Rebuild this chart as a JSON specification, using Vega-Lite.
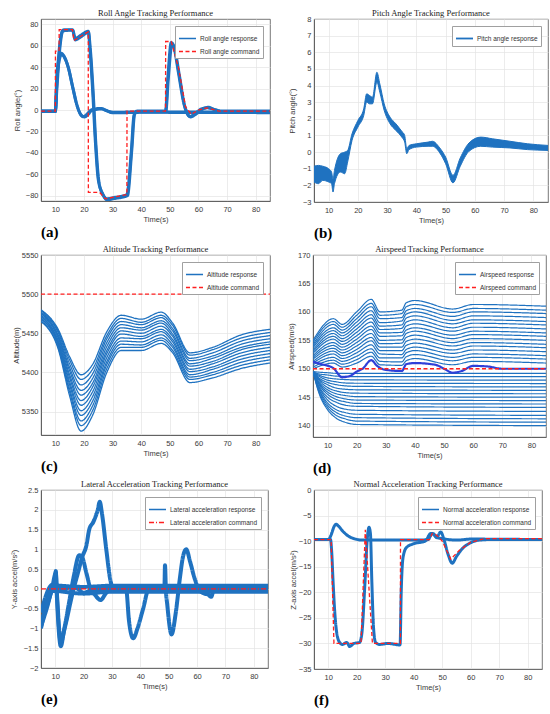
{
"$schema":"https://vega.github.io/schema/vega-lite/v6.json",
"background":"white",
"padding":{"left":9,"top":8,"right":5,"bottom":0},
"config":{
 "font":"Liberation Sans",
 "view":{"stroke":"#555555","strokeWidth":0.8},
 "axis":{"labelFont":"Liberation Sans","labelFontSize":7.5,"labelColor":"#3a3a3a","titleFont":"Liberation Sans","titleFontSize":7.5,"titleFontWeight":"normal","titleColor":"#3a3a3a","gridColor":"#e4e4e4","gridWidth":0.7,"domainColor":"#555555","domainWidth":0.8,"ticks":false,"labelPadding":3,"labelOverlap":false},
 "axisX":{"labelPadding":4,"titlePadding":3},
 "title":{"font":"Liberation Serif","fontSize":8.5,"fontWeight":"normal","color":"#222222","offset":2,"frame":"group"},
 "legend":{"orient":"top-right","offset":7,"fillColor":"white","strokeColor":"#a0a0a0","padding":3,"symbolType":"stroke","symbolSize":290,"symbolStrokeWidth":1.4,"labelFont":"Liberation Sans","labelFontSize":6.5,"labelColor":"#333333","rowPadding":0,"labelOffset":3}
},
"resolve":{"scale":{"color":"independent","strokeDash":"independent"},"legend":{"color":"independent","strokeDash":"independent"}},
"datasets":{
"a":[
{"t":5,"v":-1,"r":"c","k":"C"},{"t":10,"v":-1,"r":"c","k":"C"},{"t":10.05,"v":55,"r":"c","k":"C"},{"t":11.3,"v":55,"r":"c","k":"C"},{"t":11.35,"v":75,"r":"c","k":"C"},{"t":16,"v":75,"r":"c","k":"C"},{"t":16.5,"v":65,"r":"c","k":"C"},{"t":21.5,"v":73,"r":"c","k":"C"},{"t":21.55,"v":-77,"r":"c","k":"C"},{"t":25.5,"v":-77,"r":"c","k":"C"},{"t":27.5,"v":-83,"r":"c","k":"C"},{"t":35,"v":-79,"r":"c","k":"C"},{"t":35.05,"v":-1,"r":"c","k":"C"},{"t":48.5,"v":-1,"r":"c","k":"C"},{"t":48.55,"v":64,"r":"c","k":"C"},{"t":50.5,"v":64,"r":"c","k":"C"},{"t":53,"v":40,"r":"c","k":"C"},{"t":55.5,"v":3,"r":"c","k":"C"},{"t":57.5,"v":-4,"r":"c","k":"C"},{"t":60,"v":0,"r":"c","k":"C"},{"t":63,"v":2,"r":"c","k":"C"},{"t":67,"v":-1,"r":"c","k":"C"},{"t":85,"v":-1,"r":"c","k":"C"},
{"t":5,"v":-1,"r":"a1","k":"R"},{"t":10,"v":-1,"r":"a1","k":"R"},{"t":10.5,"v":25,"r":"a1","k":"R"},{"t":11.5,"v":60,"r":"a1","k":"R"},{"t":12.5,"v":74,"r":"a1","k":"R"},{"t":13,"v":75,"r":"a1","k":"R"},{"t":16,"v":75,"r":"a1","k":"R"},{"t":17,"v":67,"r":"a1","k":"R"},{"t":19,"v":70,"r":"a1","k":"R"},{"t":21.5,"v":73.5,"r":"a1","k":"R"},{"t":22,"v":60,"r":"a1","k":"R"},{"t":23,"v":20,"r":"a1","k":"R"},{"t":24,"v":-30,"r":"a1","k":"R"},{"t":25,"v":-65,"r":"a1","k":"R"},{"t":26.5,"v":-78,"r":"a1","k":"R"},{"t":28,"v":-83,"r":"a1","k":"R"},{"t":30,"v":-82,"r":"a1","k":"R"},{"t":35,"v":-79,"r":"a1","k":"R"},{"t":36.5,"v":-40,"r":"a1","k":"R"},{"t":37.5,"v":-5,"r":"a1","k":"R"},{"t":38.5,"v":-1,"r":"a1","k":"R"},{"t":48.5,"v":-1,"r":"a1","k":"R"},{"t":49.3,"v":30,"r":"a1","k":"R"},{"t":50.5,"v":63,"r":"a1","k":"R"},{"t":51.5,"v":58,"r":"a1","k":"R"},{"t":53,"v":35,"r":"a1","k":"R"},{"t":55,"v":5,"r":"a1","k":"R"},{"t":57,"v":-6,"r":"a1","k":"R"},{"t":59,"v":-3,"r":"a1","k":"R"},{"t":61,"v":1,"r":"a1","k":"R"},{"t":63,"v":2,"r":"a1","k":"R"},{"t":65,"v":1,"r":"a1","k":"R"},{"t":68,"v":-1,"r":"a1","k":"R"},{"t":85,"v":-1,"r":"a1","k":"R"},
{"t":5,"v":-1.5,"r":"a2","k":"R"},{"t":10,"v":-1.5,"r":"a2","k":"R"},{"t":10.6,"v":22,"r":"a2","k":"R"},{"t":11.6,"v":58,"r":"a2","k":"R"},{"t":12.7,"v":74,"r":"a2","k":"R"},{"t":16,"v":74.5,"r":"a2","k":"R"},{"t":17,"v":65.5,"r":"a2","k":"R"},{"t":19,"v":68.5,"r":"a2","k":"R"},{"t":21.6,"v":72.5,"r":"a2","k":"R"},{"t":22.2,"v":58,"r":"a2","k":"R"},{"t":23.2,"v":18,"r":"a2","k":"R"},{"t":24.2,"v":-33,"r":"a2","k":"R"},{"t":25.3,"v":-68,"r":"a2","k":"R"},{"t":26.8,"v":-80,"r":"a2","k":"R"},{"t":28.2,"v":-84,"r":"a2","k":"R"},{"t":30,"v":-83,"r":"a2","k":"R"},{"t":35.2,"v":-80,"r":"a2","k":"R"},{"t":36.7,"v":-38,"r":"a2","k":"R"},{"t":37.7,"v":-4,"r":"a2","k":"R"},{"t":38.7,"v":-1.5,"r":"a2","k":"R"},{"t":48.6,"v":-1.5,"r":"a2","k":"R"},{"t":49.5,"v":30,"r":"a2","k":"R"},{"t":50.8,"v":62,"r":"a2","k":"R"},{"t":51.8,"v":56,"r":"a2","k":"R"},{"t":53.3,"v":33,"r":"a2","k":"R"},{"t":55.3,"v":3,"r":"a2","k":"R"},{"t":57.3,"v":-6.5,"r":"a2","k":"R"},{"t":59.3,"v":-3.5,"r":"a2","k":"R"},{"t":61.3,"v":0.5,"r":"a2","k":"R"},{"t":63.5,"v":2.5,"r":"a2","k":"R"},{"t":65.5,"v":0.5,"r":"a2","k":"R"},{"t":68,"v":-1.5,"r":"a2","k":"R"},{"t":85,"v":-1.5,"r":"a2","k":"R"},
{"t":5,"v":-1,"r":"b1","k":"R"},{"t":10,"v":-1,"r":"b1","k":"R"},{"t":10.5,"v":30,"r":"b1","k":"R"},{"t":11.5,"v":50,"r":"b1","k":"R"},{"t":12,"v":53,"r":"b1","k":"R"},{"t":13,"v":50.5,"r":"b1","k":"R"},{"t":14.5,"v":40,"r":"b1","k":"R"},{"t":16,"v":22,"r":"b1","k":"R"},{"t":17.5,"v":5,"r":"b1","k":"R"},{"t":19,"v":-4.5,"r":"b1","k":"R"},{"t":20,"v":-6,"r":"b1","k":"R"},{"t":21,"v":-4,"r":"b1","k":"R"},{"t":22.5,"v":0,"r":"b1","k":"R"},{"t":24,"v":1,"r":"b1","k":"R"},{"t":26,"v":1.5,"r":"b1","k":"R"},{"t":27.5,"v":0,"r":"b1","k":"R"},{"t":30,"v":-2,"r":"b1","k":"R"},{"t":33,"v":-2,"r":"b1","k":"R"},{"t":40,"v":-1.8,"r":"b1","k":"R"},{"t":85,"v":-2,"r":"b1","k":"R"},
{"t":5,"v":-1.5,"r":"b2","k":"R"},{"t":10,"v":-1.5,"r":"b2","k":"R"},{"t":10.6,"v":28,"r":"b2","k":"R"},{"t":11.6,"v":49,"r":"b2","k":"R"},{"t":12.2,"v":52,"r":"b2","k":"R"},{"t":13.2,"v":49,"r":"b2","k":"R"},{"t":14.7,"v":38,"r":"b2","k":"R"},{"t":16.2,"v":20,"r":"b2","k":"R"},{"t":17.7,"v":3.5,"r":"b2","k":"R"},{"t":19.2,"v":-5.5,"r":"b2","k":"R"},{"t":20.2,"v":-6.5,"r":"b2","k":"R"},{"t":21.2,"v":-5,"r":"b2","k":"R"},{"t":22.7,"v":-0.5,"r":"b2","k":"R"},{"t":24.2,"v":0.5,"r":"b2","k":"R"},{"t":26.2,"v":1,"r":"b2","k":"R"},{"t":27.7,"v":-0.5,"r":"b2","k":"R"},{"t":30,"v":-2.5,"r":"b2","k":"R"},{"t":33,"v":-2.5,"r":"b2","k":"R"},{"t":40,"v":-2.2,"r":"b2","k":"R"},{"t":85,"v":-2.5,"r":"b2","k":"R"}
],
"b":[
{"t":5,"lo":-1.8,"hi":-0.85},{"t":6.5,"lo":-1.9,"hi":-0.8},{"t":8,"lo":-1.7,"hi":-0.85},{"t":10,"lo":-1.8,"hi":-1.0},{"t":11,"lo":-1.9,"hi":-1.2},{"t":11.5,"lo":-2.4,"hi":-1.6},{"t":12,"lo":-1.9,"hi":-1.1},{"t":14,"lo":-1.2,"hi":-0.1},{"t":15.5,"lo":-1.3,"hi":0.0},{"t":16.5,"lo":-0.6,"hi":0.1},{"t":18,"lo":0.7,"hi":1.1},{"t":20,"lo":1.5,"hi":1.9},{"t":22,"lo":2.2,"hi":2.6},{"t":23,"lo":3.0,"hi":3.5},{"t":24,"lo":2.9,"hi":3.4},{"t":25,"lo":2.9,"hi":3.3},{"t":26.5,"lo":4.2,"hi":4.8},{"t":27.5,"lo":3.6,"hi":4.1},{"t":29,"lo":2.5,"hi":2.9},{"t":31,"lo":1.7,"hi":2.1},{"t":33,"lo":1.3,"hi":1.7},{"t":35,"lo":0.9,"hi":1.25},{"t":36,"lo":0.6,"hi":1.0},{"t":36.7,"lo":-0.1,"hi":0.2},{"t":37.5,"lo":0.15,"hi":0.4},{"t":40,"lo":0.3,"hi":0.5},{"t":44,"lo":0.35,"hi":0.6},{"t":45.5,"lo":0.35,"hi":0.65},{"t":48,"lo":-0.05,"hi":0.25},{"t":50,"lo":-0.7,"hi":-0.3},{"t":52.5,"lo":-1.85,"hi":-1.4},{"t":55,"lo":-0.85,"hi":-0.35},{"t":58,"lo":0.05,"hi":0.55},{"t":62,"lo":0.35,"hi":0.9},{"t":66,"lo":0.3,"hi":0.8},{"t":72,"lo":0.25,"hi":0.65},{"t":78,"lo":0.15,"hi":0.5},{"t":85,"lo":0.1,"hi":0.4}
],
"c":[
{"t":5,"v":5500,"r":"c","k":"C"},{"t":85,"v":5500,"r":"c","k":"C"},
{"t":5,"v":5465,"r":"0","k":"R"},{"t":11,"v":5430,"r":"0","k":"R"},{"t":15,"v":5370,"r":"0","k":"R"},{"t":19,"v":5325,"r":"0","k":"R"},{"t":23,"v":5345,"r":"0","k":"R"},{"t":28,"v":5400,"r":"0","k":"R"},{"t":33,"v":5428,"r":"0","k":"R"},{"t":40,"v":5428,"r":"0","k":"R"},{"t":47,"v":5437,"r":"0","k":"R"},{"t":51,"v":5425,"r":"0","k":"R"},{"t":57,"v":5387,"r":"0","k":"R"},{"t":65,"v":5393,"r":"0","k":"R"},{"t":75,"v":5405,"r":"0","k":"R"},{"t":85,"v":5412,"r":"0","k":"R"},
{"t":5,"v":5466,"r":"1","k":"R"},{"t":11,"v":5432,"r":"1","k":"R"},{"t":15,"v":5375,"r":"1","k":"R"},{"t":19,"v":5332,"r":"1","k":"R"},{"t":23,"v":5351,"r":"1","k":"R"},{"t":28,"v":5405,"r":"1","k":"R"},{"t":33,"v":5432,"r":"1","k":"R"},{"t":40,"v":5432,"r":"1","k":"R"},{"t":47,"v":5441,"r":"1","k":"R"},{"t":51,"v":5428,"r":"1","k":"R"},{"t":57,"v":5391,"r":"1","k":"R"},{"t":65,"v":5397,"r":"1","k":"R"},{"t":75,"v":5409,"r":"1","k":"R"},{"t":85,"v":5416,"r":"1","k":"R"},
{"t":5,"v":5468,"r":"2","k":"R"},{"t":11,"v":5435,"r":"2","k":"R"},{"t":15,"v":5379,"r":"2","k":"R"},{"t":19,"v":5338,"r":"2","k":"R"},{"t":23,"v":5357,"r":"2","k":"R"},{"t":28,"v":5410,"r":"2","k":"R"},{"t":33,"v":5436,"r":"2","k":"R"},{"t":40,"v":5435,"r":"2","k":"R"},{"t":47,"v":5444,"r":"2","k":"R"},{"t":51,"v":5432,"r":"2","k":"R"},{"t":57,"v":5394,"r":"2","k":"R"},{"t":65,"v":5400,"r":"2","k":"R"},{"t":75,"v":5413,"r":"2","k":"R"},{"t":85,"v":5420,"r":"2","k":"R"},
{"t":5,"v":5469,"r":"3","k":"R"},{"t":11,"v":5437,"r":"3","k":"R"},{"t":15,"v":5384,"r":"3","k":"R"},{"t":19,"v":5345,"r":"3","k":"R"},{"t":23,"v":5363,"r":"3","k":"R"},{"t":28,"v":5414,"r":"3","k":"R"},{"t":33,"v":5440,"r":"3","k":"R"},{"t":40,"v":5439,"r":"3","k":"R"},{"t":47,"v":5448,"r":"3","k":"R"},{"t":51,"v":5435,"r":"3","k":"R"},{"t":57,"v":5397,"r":"3","k":"R"},{"t":65,"v":5404,"r":"3","k":"R"},{"t":75,"v":5417,"r":"3","k":"R"},{"t":85,"v":5424,"r":"3","k":"R"},
{"t":5,"v":5471,"r":"4","k":"R"},{"t":11,"v":5439,"r":"4","k":"R"},{"t":15,"v":5388,"r":"4","k":"R"},{"t":19,"v":5351,"r":"4","k":"R"},{"t":23,"v":5369,"r":"4","k":"R"},{"t":28,"v":5419,"r":"4","k":"R"},{"t":33,"v":5444,"r":"4","k":"R"},{"t":40,"v":5443,"r":"4","k":"R"},{"t":47,"v":5452,"r":"4","k":"R"},{"t":51,"v":5439,"r":"4","k":"R"},{"t":57,"v":5401,"r":"4","k":"R"},{"t":65,"v":5407,"r":"4","k":"R"},{"t":75,"v":5421,"r":"4","k":"R"},{"t":85,"v":5428,"r":"4","k":"R"},
{"t":5,"v":5472,"r":"5","k":"R"},{"t":11,"v":5441,"r":"5","k":"R"},{"t":15,"v":5393,"r":"5","k":"R"},{"t":19,"v":5358,"r":"5","k":"R"},{"t":23,"v":5375,"r":"5","k":"R"},{"t":28,"v":5424,"r":"5","k":"R"},{"t":33,"v":5449,"r":"5","k":"R"},{"t":40,"v":5446,"r":"5","k":"R"},{"t":47,"v":5455,"r":"5","k":"R"},{"t":51,"v":5442,"r":"5","k":"R"},{"t":57,"v":5404,"r":"5","k":"R"},{"t":65,"v":5411,"r":"5","k":"R"},{"t":75,"v":5425,"r":"5","k":"R"},{"t":85,"v":5432,"r":"5","k":"R"},
{"t":5,"v":5473,"r":"6","k":"R"},{"t":11,"v":5444,"r":"6","k":"R"},{"t":15,"v":5397,"r":"6","k":"R"},{"t":19,"v":5364,"r":"6","k":"R"},{"t":23,"v":5381,"r":"6","k":"R"},{"t":28,"v":5428,"r":"6","k":"R"},{"t":33,"v":5453,"r":"6","k":"R"},{"t":40,"v":5450,"r":"6","k":"R"},{"t":47,"v":5459,"r":"6","k":"R"},{"t":51,"v":5446,"r":"6","k":"R"},{"t":57,"v":5408,"r":"6","k":"R"},{"t":65,"v":5414,"r":"6","k":"R"},{"t":75,"v":5429,"r":"6","k":"R"},{"t":85,"v":5436,"r":"6","k":"R"},
{"t":5,"v":5475,"r":"7","k":"R"},{"t":11,"v":5446,"r":"7","k":"R"},{"t":15,"v":5402,"r":"7","k":"R"},{"t":19,"v":5371,"r":"7","k":"R"},{"t":23,"v":5386,"r":"7","k":"R"},{"t":28,"v":5433,"r":"7","k":"R"},{"t":33,"v":5457,"r":"7","k":"R"},{"t":40,"v":5454,"r":"7","k":"R"},{"t":47,"v":5463,"r":"7","k":"R"},{"t":51,"v":5449,"r":"7","k":"R"},{"t":57,"v":5411,"r":"7","k":"R"},{"t":65,"v":5418,"r":"7","k":"R"},{"t":75,"v":5432,"r":"7","k":"R"},{"t":85,"v":5439,"r":"7","k":"R"},
{"t":5,"v":5476,"r":"8","k":"R"},{"t":11,"v":5448,"r":"8","k":"R"},{"t":15,"v":5406,"r":"8","k":"R"},{"t":19,"v":5377,"r":"8","k":"R"},{"t":23,"v":5392,"r":"8","k":"R"},{"t":28,"v":5438,"r":"8","k":"R"},{"t":33,"v":5461,"r":"8","k":"R"},{"t":40,"v":5457,"r":"8","k":"R"},{"t":47,"v":5466,"r":"8","k":"R"},{"t":51,"v":5453,"r":"8","k":"R"},{"t":57,"v":5415,"r":"8","k":"R"},{"t":65,"v":5421,"r":"8","k":"R"},{"t":75,"v":5436,"r":"8","k":"R"},{"t":85,"v":5443,"r":"8","k":"R"},
{"t":5,"v":5477,"r":"9","k":"R"},{"t":11,"v":5451,"r":"9","k":"R"},{"t":15,"v":5411,"r":"9","k":"R"},{"t":19,"v":5384,"r":"9","k":"R"},{"t":23,"v":5398,"r":"9","k":"R"},{"t":28,"v":5443,"r":"9","k":"R"},{"t":33,"v":5465,"r":"9","k":"R"},{"t":40,"v":5461,"r":"9","k":"R"},{"t":47,"v":5470,"r":"9","k":"R"},{"t":51,"v":5456,"r":"9","k":"R"},{"t":57,"v":5418,"r":"9","k":"R"},{"t":65,"v":5425,"r":"9","k":"R"},{"t":75,"v":5440,"r":"9","k":"R"},{"t":85,"v":5447,"r":"9","k":"R"},
{"t":5,"v":5479,"r":"10","k":"R"},{"t":11,"v":5453,"r":"10","k":"R"},{"t":15,"v":5416,"r":"10","k":"R"},{"t":19,"v":5391,"r":"10","k":"R"},{"t":23,"v":5404,"r":"10","k":"R"},{"t":28,"v":5447,"r":"10","k":"R"},{"t":33,"v":5469,"r":"10","k":"R"},{"t":40,"v":5464,"r":"10","k":"R"},{"t":47,"v":5473,"r":"10","k":"R"},{"t":51,"v":5460,"r":"10","k":"R"},{"t":57,"v":5422,"r":"10","k":"R"},{"t":65,"v":5429,"r":"10","k":"R"},{"t":75,"v":5444,"r":"10","k":"R"},{"t":85,"v":5451,"r":"10","k":"R"},
{"t":5,"v":5480,"r":"11","k":"R"},{"t":11,"v":5455,"r":"11","k":"R"},{"t":15,"v":5420,"r":"11","k":"R"},{"t":19,"v":5397,"r":"11","k":"R"},{"t":23,"v":5410,"r":"11","k":"R"},{"t":28,"v":5452,"r":"11","k":"R"},{"t":33,"v":5473,"r":"11","k":"R"},{"t":40,"v":5468,"r":"11","k":"R"},{"t":47,"v":5477,"r":"11","k":"R"},{"t":51,"v":5463,"r":"11","k":"R"},{"t":57,"v":5425,"r":"11","k":"R"},{"t":65,"v":5432,"r":"11","k":"R"},{"t":75,"v":5448,"r":"11","k":"R"},{"t":85,"v":5455,"r":"11","k":"R"}
],
"d":[
{"t":5,"v":150,"r":"c","k":"C"},{"t":85,"v":150,"r":"c","k":"C"},
{"t":5,"v":151.2,"r":"s","k":"S"},{"t":8,"v":150.8,"r":"s","k":"S"},{"t":12,"v":150.1,"r":"s","k":"S"},{"t":15,"v":148.5,"r":"s","k":"S"},{"t":18,"v":148.8,"r":"s","k":"S"},{"t":20,"v":149.5,"r":"s","k":"S"},{"t":22,"v":150.0,"r":"s","k":"S"},{"t":25,"v":151.5,"r":"s","k":"S"},{"t":27,"v":150.5,"r":"s","k":"S"},{"t":30,"v":149.8,"r":"s","k":"S"},{"t":35.5,"v":149.6,"r":"s","k":"S"},{"t":37,"v":150.8,"r":"s","k":"S"},{"t":40,"v":151.0,"r":"s","k":"S"},{"t":47,"v":150.7,"r":"s","k":"S"},{"t":50,"v":150.0,"r":"s","k":"S"},{"t":53,"v":149.3,"r":"s","k":"S"},{"t":56,"v":149.6,"r":"s","k":"S"},{"t":60,"v":150.5,"r":"s","k":"S"},{"t":65,"v":150.4,"r":"s","k":"S"},{"t":70,"v":150.0,"r":"s","k":"S"},{"t":85,"v":150.0,"r":"s","k":"S"},
{"t":5,"v":150.0,"r":"u0","k":"R"},{"t":12,"v":151.0,"r":"u0","k":"R"},{"t":15,"v":150.3,"r":"u0","k":"R"},{"t":20,"v":151.0,"r":"u0","k":"R"},{"t":25,"v":152.2,"r":"u0","k":"R"},{"t":28,"v":150.7,"r":"u0","k":"R"},{"t":35.5,"v":150.6,"r":"u0","k":"R"},{"t":37,"v":151.4,"r":"u0","k":"R"},{"t":40,"v":151.8,"r":"u0","k":"R"},{"t":53,"v":150.7,"r":"u0","k":"R"},{"t":60,"v":151.3,"r":"u0","k":"R"},{"t":85,"v":151.0,"r":"u0","k":"R"},
{"t":5,"v":150.3,"r":"u1","k":"R"},{"t":12,"v":151.5,"r":"u1","k":"R"},{"t":15,"v":150.8,"r":"u1","k":"R"},{"t":20,"v":151.6,"r":"u1","k":"R"},{"t":25,"v":152.9,"r":"u1","k":"R"},{"t":28,"v":151.3,"r":"u1","k":"R"},{"t":35.5,"v":151.2,"r":"u1","k":"R"},{"t":37,"v":152.1,"r":"u1","k":"R"},{"t":40,"v":152.5,"r":"u1","k":"R"},{"t":53,"v":151.4,"r":"u1","k":"R"},{"t":60,"v":152.0,"r":"u1","k":"R"},{"t":85,"v":151.7,"r":"u1","k":"R"},
{"t":5,"v":150.7,"r":"u2","k":"R"},{"t":12,"v":152.0,"r":"u2","k":"R"},{"t":15,"v":151.3,"r":"u2","k":"R"},{"t":20,"v":152.2,"r":"u2","k":"R"},{"t":25,"v":153.5,"r":"u2","k":"R"},{"t":28,"v":151.9,"r":"u2","k":"R"},{"t":35.5,"v":151.9,"r":"u2","k":"R"},{"t":37,"v":152.8,"r":"u2","k":"R"},{"t":40,"v":153.2,"r":"u2","k":"R"},{"t":53,"v":152.0,"r":"u2","k":"R"},{"t":60,"v":152.6,"r":"u2","k":"R"},{"t":85,"v":152.3,"r":"u2","k":"R"},
{"t":5,"v":151.0,"r":"u3","k":"R"},{"t":12,"v":152.6,"r":"u3","k":"R"},{"t":15,"v":151.8,"r":"u3","k":"R"},{"t":20,"v":152.8,"r":"u3","k":"R"},{"t":25,"v":154.2,"r":"u3","k":"R"},{"t":28,"v":152.6,"r":"u3","k":"R"},{"t":35.5,"v":152.5,"r":"u3","k":"R"},{"t":37,"v":153.4,"r":"u3","k":"R"},{"t":40,"v":153.8,"r":"u3","k":"R"},{"t":53,"v":152.7,"r":"u3","k":"R"},{"t":60,"v":153.3,"r":"u3","k":"R"},{"t":85,"v":153.0,"r":"u3","k":"R"},
{"t":5,"v":151.3,"r":"u4","k":"R"},{"t":12,"v":153.1,"r":"u4","k":"R"},{"t":15,"v":152.3,"r":"u4","k":"R"},{"t":20,"v":153.4,"r":"u4","k":"R"},{"t":25,"v":154.9,"r":"u4","k":"R"},{"t":28,"v":153.2,"r":"u4","k":"R"},{"t":35.5,"v":153.2,"r":"u4","k":"R"},{"t":37,"v":154.1,"r":"u4","k":"R"},{"t":40,"v":154.5,"r":"u4","k":"R"},{"t":53,"v":153.3,"r":"u4","k":"R"},{"t":60,"v":154.0,"r":"u4","k":"R"},{"t":85,"v":153.7,"r":"u4","k":"R"},
{"t":5,"v":151.7,"r":"u5","k":"R"},{"t":12,"v":153.6,"r":"u5","k":"R"},{"t":15,"v":152.8,"r":"u5","k":"R"},{"t":20,"v":154.0,"r":"u5","k":"R"},{"t":25,"v":155.5,"r":"u5","k":"R"},{"t":28,"v":153.8,"r":"u5","k":"R"},{"t":35.5,"v":153.8,"r":"u5","k":"R"},{"t":37,"v":154.8,"r":"u5","k":"R"},{"t":40,"v":155.2,"r":"u5","k":"R"},{"t":53,"v":154.0,"r":"u5","k":"R"},{"t":60,"v":154.6,"r":"u5","k":"R"},{"t":85,"v":154.3,"r":"u5","k":"R"},
{"t":5,"v":152.0,"r":"u6","k":"R"},{"t":12,"v":154.1,"r":"u6","k":"R"},{"t":15,"v":153.3,"r":"u6","k":"R"},{"t":20,"v":154.6,"r":"u6","k":"R"},{"t":25,"v":156.2,"r":"u6","k":"R"},{"t":28,"v":154.4,"r":"u6","k":"R"},{"t":35.5,"v":154.5,"r":"u6","k":"R"},{"t":37,"v":155.5,"r":"u6","k":"R"},{"t":40,"v":155.9,"r":"u6","k":"R"},{"t":53,"v":154.6,"r":"u6","k":"R"},{"t":60,"v":155.3,"r":"u6","k":"R"},{"t":85,"v":155.0,"r":"u6","k":"R"},
{"t":5,"v":152.3,"r":"u7","k":"R"},{"t":12,"v":154.6,"r":"u7","k":"R"},{"t":15,"v":153.8,"r":"u7","k":"R"},{"t":20,"v":155.2,"r":"u7","k":"R"},{"t":25,"v":156.9,"r":"u7","k":"R"},{"t":28,"v":155.0,"r":"u7","k":"R"},{"t":35.5,"v":155.1,"r":"u7","k":"R"},{"t":37,"v":156.2,"r":"u7","k":"R"},{"t":40,"v":156.6,"r":"u7","k":"R"},{"t":53,"v":155.3,"r":"u7","k":"R"},{"t":60,"v":156.0,"r":"u7","k":"R"},{"t":85,"v":155.7,"r":"u7","k":"R"},
{"t":5,"v":152.7,"r":"u8","k":"R"},{"t":12,"v":155.2,"r":"u8","k":"R"},{"t":15,"v":154.3,"r":"u8","k":"R"},{"t":20,"v":155.8,"r":"u8","k":"R"},{"t":25,"v":157.5,"r":"u8","k":"R"},{"t":28,"v":155.7,"r":"u8","k":"R"},{"t":35.5,"v":155.8,"r":"u8","k":"R"},{"t":37,"v":156.8,"r":"u8","k":"R"},{"t":40,"v":157.2,"r":"u8","k":"R"},{"t":53,"v":155.9,"r":"u8","k":"R"},{"t":60,"v":156.6,"r":"u8","k":"R"},{"t":85,"v":156.3,"r":"u8","k":"R"},
{"t":5,"v":153.0,"r":"u9","k":"R"},{"t":12,"v":155.7,"r":"u9","k":"R"},{"t":15,"v":154.8,"r":"u9","k":"R"},{"t":20,"v":156.4,"r":"u9","k":"R"},{"t":25,"v":158.2,"r":"u9","k":"R"},{"t":28,"v":156.3,"r":"u9","k":"R"},{"t":35.5,"v":156.4,"r":"u9","k":"R"},{"t":37,"v":157.5,"r":"u9","k":"R"},{"t":40,"v":157.9,"r":"u9","k":"R"},{"t":53,"v":156.6,"r":"u9","k":"R"},{"t":60,"v":157.3,"r":"u9","k":"R"},{"t":85,"v":157.0,"r":"u9","k":"R"},
{"t":5,"v":153.3,"r":"u10","k":"R"},{"t":12,"v":156.2,"r":"u10","k":"R"},{"t":15,"v":155.3,"r":"u10","k":"R"},{"t":20,"v":157.0,"r":"u10","k":"R"},{"t":25,"v":158.9,"r":"u10","k":"R"},{"t":28,"v":156.9,"r":"u10","k":"R"},{"t":35.5,"v":157.1,"r":"u10","k":"R"},{"t":37,"v":158.2,"r":"u10","k":"R"},{"t":40,"v":158.6,"r":"u10","k":"R"},{"t":53,"v":157.2,"r":"u10","k":"R"},{"t":60,"v":158.0,"r":"u10","k":"R"},{"t":85,"v":157.7,"r":"u10","k":"R"},
{"t":5,"v":153.7,"r":"u11","k":"R"},{"t":12,"v":156.7,"r":"u11","k":"R"},{"t":15,"v":155.8,"r":"u11","k":"R"},{"t":20,"v":157.6,"r":"u11","k":"R"},{"t":25,"v":159.5,"r":"u11","k":"R"},{"t":28,"v":157.5,"r":"u11","k":"R"},{"t":35.5,"v":157.7,"r":"u11","k":"R"},{"t":37,"v":158.9,"r":"u11","k":"R"},{"t":40,"v":159.3,"r":"u11","k":"R"},{"t":53,"v":157.9,"r":"u11","k":"R"},{"t":60,"v":158.6,"r":"u11","k":"R"},{"t":85,"v":158.3,"r":"u11","k":"R"},
{"t":5,"v":154.0,"r":"u12","k":"R"},{"t":12,"v":157.2,"r":"u12","k":"R"},{"t":15,"v":156.3,"r":"u12","k":"R"},{"t":20,"v":158.2,"r":"u12","k":"R"},{"t":25,"v":160.2,"r":"u12","k":"R"},{"t":28,"v":158.1,"r":"u12","k":"R"},{"t":35.5,"v":158.4,"r":"u12","k":"R"},{"t":37,"v":159.6,"r":"u12","k":"R"},{"t":40,"v":160.0,"r":"u12","k":"R"},{"t":53,"v":158.5,"r":"u12","k":"R"},{"t":60,"v":159.3,"r":"u12","k":"R"},{"t":85,"v":159.0,"r":"u12","k":"R"},
{"t":5,"v":154.3,"r":"u13","k":"R"},{"t":12,"v":157.8,"r":"u13","k":"R"},{"t":15,"v":156.8,"r":"u13","k":"R"},{"t":20,"v":158.8,"r":"u13","k":"R"},{"t":25,"v":160.9,"r":"u13","k":"R"},{"t":28,"v":158.8,"r":"u13","k":"R"},{"t":35.5,"v":159.0,"r":"u13","k":"R"},{"t":37,"v":160.2,"r":"u13","k":"R"},{"t":40,"v":160.6,"r":"u13","k":"R"},{"t":53,"v":159.2,"r":"u13","k":"R"},{"t":60,"v":160.0,"r":"u13","k":"R"},{"t":85,"v":159.7,"r":"u13","k":"R"},
{"t":5,"v":154.7,"r":"u14","k":"R"},{"t":12,"v":158.3,"r":"u14","k":"R"},{"t":15,"v":157.3,"r":"u14","k":"R"},{"t":20,"v":159.4,"r":"u14","k":"R"},{"t":25,"v":161.5,"r":"u14","k":"R"},{"t":28,"v":159.4,"r":"u14","k":"R"},{"t":35.5,"v":159.7,"r":"u14","k":"R"},{"t":37,"v":160.9,"r":"u14","k":"R"},{"t":40,"v":161.3,"r":"u14","k":"R"},{"t":53,"v":159.9,"r":"u14","k":"R"},{"t":60,"v":160.6,"r":"u14","k":"R"},{"t":85,"v":160.3,"r":"u14","k":"R"},
{"t":5,"v":155.0,"r":"u15","k":"R"},{"t":12,"v":158.8,"r":"u15","k":"R"},{"t":15,"v":157.8,"r":"u15","k":"R"},{"t":20,"v":160.0,"r":"u15","k":"R"},{"t":25,"v":162.2,"r":"u15","k":"R"},{"t":28,"v":160.0,"r":"u15","k":"R"},{"t":35.5,"v":160.3,"r":"u15","k":"R"},{"t":37,"v":161.6,"r":"u15","k":"R"},{"t":40,"v":162.0,"r":"u15","k":"R"},{"t":53,"v":160.5,"r":"u15","k":"R"},{"t":60,"v":161.3,"r":"u15","k":"R"},{"t":85,"v":161.0,"r":"u15","k":"R"},
{"t":5,"v":149.5,"r":"l0","k":"R"},{"t":7,"v":145.8,"r":"l0","k":"R"},{"t":10,"v":142.8,"r":"l0","k":"R"},{"t":13,"v":141.3,"r":"l0","k":"R"},{"t":16,"v":140.6,"r":"l0","k":"R"},{"t":20,"v":140.2,"r":"l0","k":"R"},{"t":85,"v":140.0,"r":"l0","k":"R"},
{"t":5,"v":149.5,"r":"l1","k":"R"},{"t":7,"v":146.0,"r":"l1","k":"R"},{"t":10,"v":143.2,"r":"l1","k":"R"},{"t":13,"v":141.8,"r":"l1","k":"R"},{"t":16,"v":141.2,"r":"l1","k":"R"},{"t":20,"v":140.8,"r":"l1","k":"R"},{"t":85,"v":140.6,"r":"l1","k":"R"},
{"t":5,"v":149.5,"r":"l2","k":"R"},{"t":7,"v":146.3,"r":"l2","k":"R"},{"t":10,"v":143.6,"r":"l2","k":"R"},{"t":13,"v":142.3,"r":"l2","k":"R"},{"t":16,"v":141.7,"r":"l2","k":"R"},{"t":20,"v":141.4,"r":"l2","k":"R"},{"t":85,"v":141.2,"r":"l2","k":"R"},
{"t":5,"v":149.5,"r":"l3","k":"R"},{"t":7,"v":146.5,"r":"l3","k":"R"},{"t":10,"v":144.0,"r":"l3","k":"R"},{"t":13,"v":142.8,"r":"l3","k":"R"},{"t":16,"v":142.3,"r":"l3","k":"R"},{"t":20,"v":142.0,"r":"l3","k":"R"},{"t":85,"v":141.8,"r":"l3","k":"R"},
{"t":5,"v":149.5,"r":"l4","k":"R"},{"t":7,"v":146.8,"r":"l4","k":"R"},{"t":10,"v":144.5,"r":"l4","k":"R"},{"t":13,"v":143.4,"r":"l4","k":"R"},{"t":16,"v":142.9,"r":"l4","k":"R"},{"t":20,"v":142.7,"r":"l4","k":"R"},{"t":85,"v":142.5,"r":"l4","k":"R"},
{"t":5,"v":149.5,"r":"l5","k":"R"},{"t":7,"v":147.0,"r":"l5","k":"R"},{"t":10,"v":145.0,"r":"l5","k":"R"},{"t":13,"v":144.1,"r":"l5","k":"R"},{"t":16,"v":143.6,"r":"l5","k":"R"},{"t":20,"v":143.4,"r":"l5","k":"R"},{"t":85,"v":143.2,"r":"l5","k":"R"},
{"t":5,"v":149.5,"r":"l6","k":"R"},{"t":7,"v":147.3,"r":"l6","k":"R"},{"t":10,"v":145.5,"r":"l6","k":"R"},{"t":13,"v":144.6,"r":"l6","k":"R"},{"t":16,"v":144.2,"r":"l6","k":"R"},{"t":20,"v":143.9,"r":"l6","k":"R"},{"t":85,"v":143.8,"r":"l6","k":"R"},
{"t":5,"v":149.5,"r":"l7","k":"R"},{"t":7,"v":147.5,"r":"l7","k":"R"},{"t":10,"v":145.9,"r":"l7","k":"R"},{"t":13,"v":145.1,"r":"l7","k":"R"},{"t":16,"v":144.7,"r":"l7","k":"R"},{"t":20,"v":144.5,"r":"l7","k":"R"},{"t":85,"v":144.4,"r":"l7","k":"R"},
{"t":5,"v":149.5,"r":"l8","k":"R"},{"t":7,"v":147.7,"r":"l8","k":"R"},{"t":10,"v":146.3,"r":"l8","k":"R"},{"t":13,"v":145.6,"r":"l8","k":"R"},{"t":16,"v":145.3,"r":"l8","k":"R"},{"t":20,"v":145.1,"r":"l8","k":"R"},{"t":85,"v":145.0,"r":"l8","k":"R"},
{"t":5,"v":149.5,"r":"l9","k":"R"},{"t":7,"v":148.0,"r":"l9","k":"R"},{"t":10,"v":146.7,"r":"l9","k":"R"},{"t":13,"v":146.1,"r":"l9","k":"R"},{"t":16,"v":145.8,"r":"l9","k":"R"},{"t":20,"v":145.7,"r":"l9","k":"R"},{"t":85,"v":145.6,"r":"l9","k":"R"},
{"t":5,"v":149.5,"r":"l10","k":"R"},{"t":7,"v":148.2,"r":"l10","k":"R"},{"t":10,"v":147.2,"r":"l10","k":"R"},{"t":13,"v":146.6,"r":"l10","k":"R"},{"t":16,"v":146.4,"r":"l10","k":"R"},{"t":20,"v":146.3,"r":"l10","k":"R"},{"t":85,"v":146.2,"r":"l10","k":"R"},
{"t":5,"v":149.5,"r":"l11","k":"R"},{"t":7,"v":148.4,"r":"l11","k":"R"},{"t":10,"v":147.6,"r":"l11","k":"R"},{"t":13,"v":147.2,"r":"l11","k":"R"},{"t":16,"v":147.0,"r":"l11","k":"R"},{"t":20,"v":146.9,"r":"l11","k":"R"},{"t":85,"v":146.8,"r":"l11","k":"R"},
{"t":5,"v":149.5,"r":"l12","k":"R"},{"t":7,"v":148.7,"r":"l12","k":"R"},{"t":10,"v":148.0,"r":"l12","k":"R"},{"t":13,"v":147.7,"r":"l12","k":"R"},{"t":16,"v":147.5,"r":"l12","k":"R"},{"t":20,"v":147.45,"r":"l12","k":"R"},{"t":85,"v":147.4,"r":"l12","k":"R"},
{"t":5,"v":149.5,"r":"l13","k":"R"},{"t":7,"v":148.9,"r":"l13","k":"R"},{"t":10,"v":148.4,"r":"l13","k":"R"},{"t":13,"v":148.2,"r":"l13","k":"R"},{"t":16,"v":148.1,"r":"l13","k":"R"},{"t":20,"v":148.04,"r":"l13","k":"R"},{"t":85,"v":148.0,"r":"l13","k":"R"},
{"t":5,"v":149.5,"r":"l14","k":"R"},{"t":7,"v":149.1,"r":"l14","k":"R"},{"t":10,"v":148.9,"r":"l14","k":"R"},{"t":13,"v":148.7,"r":"l14","k":"R"},{"t":16,"v":148.65,"r":"l14","k":"R"},{"t":20,"v":148.6,"r":"l14","k":"R"},{"t":85,"v":148.6,"r":"l14","k":"R"},
{"t":5,"v":149.5,"r":"l15","k":"R"},{"t":7,"v":149.4,"r":"l15","k":"R"},{"t":10,"v":149.3,"r":"l15","k":"R"},{"t":13,"v":149.2,"r":"l15","k":"R"},{"t":16,"v":149.2,"r":"l15","k":"R"},{"t":20,"v":149.2,"r":"l15","k":"R"},{"t":85,"v":149.2,"r":"l15","k":"R"}
],
"e":[
{"t":5,"v":0,"r":"c","k":"C"},{"t":85,"v":0,"r":"c","k":"C"},
{"t":5,"v":-0.95,"r":"p","k":"R"},{"t":7,"v":-0.5,"r":"p","k":"R"},{"t":9,"v":0,"r":"p","k":"R"},{"t":9.8,"v":0.1,"r":"p","k":"R"},{"t":10.2,"v":0.45,"r":"p","k":"R"},{"t":10.6,"v":-0.2,"r":"p","k":"R"},{"t":12,"v":-1.45,"r":"p","k":"R"},{"t":13,"v":-1.1,"r":"p","k":"R"},{"t":14,"v":-0.8,"r":"p","k":"R"},{"t":15.5,"v":-0.3,"r":"p","k":"R"},{"t":16.5,"v":0,"r":"p","k":"R"},{"t":18,"v":0.4,"r":"p","k":"R"},{"t":19.5,"v":0.8,"r":"p","k":"R"},{"t":21,"v":1.1,"r":"p","k":"R"},{"t":22,"v":1.5,"r":"p","k":"R"},{"t":23.5,"v":1.7,"r":"p","k":"R"},{"t":25,"v":2.0,"r":"p","k":"R"},{"t":25.7,"v":2.2,"r":"p","k":"R"},{"t":26.5,"v":1.9,"r":"p","k":"R"},{"t":28,"v":1.0,"r":"p","k":"R"},{"t":29.5,"v":0.2,"r":"p","k":"R"},{"t":30.5,"v":0,"r":"p","k":"R"},{"t":33,"v":0.05,"r":"p","k":"R"},{"t":35,"v":0,"r":"p","k":"R"},{"t":36,"v":-0.8,"r":"p","k":"R"},{"t":37.5,"v":-1.25,"r":"p","k":"R"},{"t":39,"v":-1.0,"r":"p","k":"R"},{"t":41,"v":-0.5,"r":"p","k":"R"},{"t":43,"v":0,"r":"p","k":"R"},{"t":47,"v":0.02,"r":"p","k":"R"},{"t":48.5,"v":0.05,"r":"p","k":"R"},{"t":48.7,"v":0.6,"r":"p","k":"R"},{"t":49,"v":0,"r":"p","k":"R"},{"t":49.5,"v":-0.4,"r":"p","k":"R"},{"t":51,"v":-1.15,"r":"p","k":"R"},{"t":52.5,"v":-0.6,"r":"p","k":"R"},{"t":54,"v":0.3,"r":"p","k":"R"},{"t":55,"v":0.8,"r":"p","k":"R"},{"t":56.2,"v":1.0,"r":"p","k":"R"},{"t":57.5,"v":0.7,"r":"p","k":"R"},{"t":59,"v":0.3,"r":"p","k":"R"},{"t":60.5,"v":0,"r":"p","k":"R"},{"t":62,"v":-0.1,"r":"p","k":"R"},{"t":64,"v":-0.15,"r":"p","k":"R"},{"t":65,"v":-0.2,"r":"p","k":"R"},{"t":66,"v":0,"r":"p","k":"R"},{"t":85,"v":0,"r":"p","k":"R"},
{"t":5,"v":-0.85,"r":"q","k":"R"},{"t":7,"v":-0.45,"r":"q","k":"R"},{"t":9,"v":0.05,"r":"q","k":"R"},{"t":10.2,"v":0.4,"r":"q","k":"R"},{"t":10.6,"v":-0.1,"r":"q","k":"R"},{"t":12,"v":-1.35,"r":"q","k":"R"},{"t":13.5,"v":-0.9,"r":"q","k":"R"},{"t":15,"v":-0.3,"r":"q","k":"R"},{"t":16.5,"v":0.3,"r":"q","k":"R"},{"t":18.5,"v":0.85,"r":"q","k":"R"},{"t":19.5,"v":0.8,"r":"q","k":"R"},{"t":21,"v":0.4,"r":"q","k":"R"},{"t":22.5,"v":0,"r":"q","k":"R"},{"t":24,"v":-0.15,"r":"q","k":"R"},{"t":26,"v":-0.28,"r":"q","k":"R"},{"t":28,"v":-0.1,"r":"q","k":"R"},{"t":30,"v":0,"r":"q","k":"R"},{"t":85,"v":0,"r":"q","k":"R"},
{"t":5,"v":-0.9,"r":"r1","k":"R"},{"t":7,"v":-0.4,"r":"r1","k":"R"},{"t":9,"v":0,"r":"r1","k":"R"},{"t":10,"v":0.1,"r":"r1","k":"R"},{"t":11,"v":0.05,"r":"r1","k":"R"},{"t":13,"v":0,"r":"r1","k":"R"},{"t":16,"v":0.05,"r":"r1","k":"R"},{"t":18,"v":0,"r":"r1","k":"R"},{"t":20,"v":-0.1,"r":"r1","k":"R"},{"t":22,"v":-0.05,"r":"r1","k":"R"},{"t":25,"v":0,"r":"r1","k":"R"},{"t":85,"v":0,"r":"r1","k":"R"},
{"t":5,"v":-0.6,"r":"r2","k":"R"},{"t":9,"v":0.1,"r":"r2","k":"R"},{"t":12,"v":0.08,"r":"r2","k":"R"},{"t":20,"v":0.05,"r":"r2","k":"R"},{"t":30,"v":0.08,"r":"r2","k":"R"},{"t":85,"v":0.08,"r":"r2","k":"R"},
{"t":5,"v":-1.0,"r":"r3","k":"R"},{"t":9,"v":-0.05,"r":"r3","k":"R"},{"t":20,"v":-0.12,"r":"r3","k":"R"},{"t":30,"v":-0.07,"r":"r3","k":"R"},{"t":85,"v":-0.07,"r":"r3","k":"R"}
],
"f":[
{"t":5,"v":-9.7,"r":"c","k":"C"},{"t":11,"v":-9.7,"r":"c","k":"C"},{"t":12,"v":-30,"r":"c","k":"C"},{"t":21.5,"v":-30,"r":"c","k":"C"},{"t":23,"v":-7.8,"r":"c","k":"C"},{"t":25.5,"v":-30,"r":"c","k":"C"},{"t":35.3,"v":-30,"r":"c","k":"C"},{"t":35.35,"v":-9.7,"r":"c","k":"C"},{"t":45.5,"v":-9.7,"r":"c","k":"C"},{"t":46.5,"v":-8.5,"r":"c","k":"C"},{"t":48,"v":-8.8,"r":"c","k":"C"},{"t":50,"v":-10,"r":"c","k":"C"},{"t":53,"v":-13.5,"r":"c","k":"C"},{"t":56,"v":-11.8,"r":"c","k":"C"},{"t":60,"v":-10.2,"r":"c","k":"C"},{"t":65,"v":-9.5,"r":"c","k":"C"},{"t":85,"v":-9.5,"r":"c","k":"C"},
{"t":5,"v":-9.7,"r":"a","k":"R"},{"t":10.8,"v":-9.7,"r":"a","k":"R"},{"t":11.2,"v":-12,"r":"a","k":"R"},{"t":11.7,"v":-18,"r":"a","k":"R"},{"t":12.3,"v":-24,"r":"a","k":"R"},{"t":13,"v":-28,"r":"a","k":"R"},{"t":14,"v":-29.8,"r":"a","k":"R"},{"t":15,"v":-30.2,"r":"a","k":"R"},{"t":16.5,"v":-29.8,"r":"a","k":"R"},{"t":17.5,"v":-30.6,"r":"a","k":"R"},{"t":19,"v":-30,"r":"a","k":"R"},{"t":21,"v":-29.8,"r":"a","k":"R"},{"t":21.8,"v":-28,"r":"a","k":"R"},{"t":22.8,"v":-19,"r":"a","k":"R"},{"t":23.7,"v":-9.5,"r":"a","k":"R"},{"t":24.3,"v":-7.3,"r":"a","k":"R"},{"t":24.8,"v":-8.5,"r":"a","k":"R"},{"t":25.3,"v":-18,"r":"a","k":"R"},{"t":25.9,"v":-27,"r":"a","k":"R"},{"t":26.6,"v":-29.8,"r":"a","k":"R"},{"t":28,"v":-30.2,"r":"a","k":"R"},{"t":31,"v":-30,"r":"a","k":"R"},{"t":35.2,"v":-30.3,"r":"a","k":"R"},{"t":35.6,"v":-20,"r":"a","k":"R"},{"t":36.3,"v":-13,"r":"a","k":"R"},{"t":37.5,"v":-11.2,"r":"a","k":"R"},{"t":40,"v":-10.5,"r":"a","k":"R"},{"t":44,"v":-10,"r":"a","k":"R"},{"t":46,"v":-8.5,"r":"a","k":"R"},{"t":47,"v":-8.6,"r":"a","k":"R"},{"t":48,"v":-9.2,"r":"a","k":"R"},{"t":49.5,"v":-8.2,"r":"a","k":"R"},{"t":50.5,"v":-9.5,"r":"a","k":"R"},{"t":52,"v":-12.5,"r":"a","k":"R"},{"t":53.5,"v":-14.3,"r":"a","k":"R"},{"t":55,"v":-13,"r":"a","k":"R"},{"t":57,"v":-11.5,"r":"a","k":"R"},{"t":60,"v":-10.3,"r":"a","k":"R"},{"t":63,"v":-9.8,"r":"a","k":"R"},{"t":66,"v":-9.7,"r":"a","k":"R"},{"t":85,"v":-9.7,"r":"a","k":"R"},
{"t":5,"v":-9.7,"r":"b","k":"R"},{"t":10,"v":-9.7,"r":"b","k":"R"},{"t":11,"v":-8.8,"r":"b","k":"R"},{"t":12,"v":-7.2,"r":"b","k":"R"},{"t":12.7,"v":-6.7,"r":"b","k":"R"},{"t":13.5,"v":-7.0,"r":"b","k":"R"},{"t":15,"v":-8,"r":"b","k":"R"},{"t":17,"v":-9,"r":"b","k":"R"},{"t":19,"v":-9.5,"r":"b","k":"R"},{"t":22,"v":-9.8,"r":"b","k":"R"},{"t":30,"v":-9.8,"r":"b","k":"R"},{"t":40,"v":-9.8,"r":"b","k":"R"},{"t":45,"v":-9.7,"r":"b","k":"R"},{"t":46.5,"v":-8.5,"r":"b","k":"R"},{"t":48,"v":-9.3,"r":"b","k":"R"},{"t":50,"v":-9.5,"r":"b","k":"R"},{"t":55,"v":-9.8,"r":"b","k":"R"},{"t":60,"v":-9.6,"r":"b","k":"R"},{"t":85,"v":-9.7,"r":"b","k":"R"}
]
},
"vconcat":[
{"resolve":{"scale":{"color":"independent","strokeDash":"independent"},"legend":{"color":"independent","strokeDash":"independent"}},
 "hconcat":[
 {"resolve":{"scale":{"color":"independent","strokeDash":"independent"},"legend":{"color":"independent","strokeDash":"independent"}},
  "title":{"text":"(a)","orient":"bottom","font":"Liberation Serif","fontSize":15,"fontWeight":"bold","color":"#000000","offset":2},
  "vconcat":[{
  "width":229,"height":182,"title":{"text":"Roll Angle Tracking Performance","offset":2},"data":{"name":"a"},
  "encoding":{"x":{"field":"t","type":"quantitative","scale":{"domain":[5,85],"nice":false,"zero":false},"axis":{"values":[10,20,30,40,50,60,70,80],"title":"Time(s)"}},
   "y":{"field":"v","type":"quantitative","scale":{"domain":[-85,85],"nice":false,"zero":false},"axis":{"values":[-80,-60,-40,-20,0,20,40,60,80],"title":"Roll angle(°)","titlePadding":4}},
   "color":{"field":"k","type":"nominal","scale":{"domain":["R","C"],"range":["#1f72c0","#ff1f1f"]},"legend":{"title":null,"labelExpr":"datum.label=='R'?'Roll angle response':'Roll angle command'"}},
   "strokeDash":{"field":"k","type":"nominal","scale":{"domain":["R","C"],"range":[[1,0],[4,2.5]]},"legend":{"title":null,"labelExpr":"datum.label=='R'?'Roll angle response':'Roll angle command'"}}},
  "layer":[
   {"transform":[{"filter":"datum.k=='R'"}],"mark":{"type":"line","strokeWidth":3,"interpolate":"monotone","clip":true},"encoding":{"detail":{"field":"r"}}},
   {"transform":[{"filter":"datum.k=='C'"}],"mark":{"type":"line","strokeWidth":1.3,"clip":true}}
  ]}]},
 {"resolve":{"scale":{"color":"independent","strokeDash":"independent"},"legend":{"color":"independent","strokeDash":"independent"}},
  "title":{"text":"(b)","orient":"bottom","font":"Liberation Serif","fontSize":15,"fontWeight":"bold","color":"#000000","offset":2},
  "vconcat":[{
  "width":234,"height":183,"title":{"text":"Pitch Angle Tracking Performance","offset":-2},"data":{"name":"b"},
  "mark":{"type":"area","interpolate":"monotone","clip":true,"stroke":"#1f72c0","strokeWidth":1},
  "encoding":{"x":{"field":"t","type":"quantitative","scale":{"domain":[5,85],"nice":false,"zero":false},"axis":{"values":[10,20,30,40,50,60,70,80],"title":"Time(s)"}},
   "y":{"field":"lo","type":"quantitative","scale":{"domain":[-3,8],"nice":false,"zero":false},"axis":{"values":[-3,-2,-1,0,1,2,3,4,5,6,7,8],"title":"Pitch angle(°)","titlePadding":6}},
   "y2":{"field":"hi"},
   "color":{"datum":"Pitch angle response","type":"nominal","scale":{"range":["#1f72c0"]},"legend":{"title":null,"symbolType":"stroke","symbolStrokeColor":"#1f72c0","symbolFillColor":"transparent","symbolStrokeWidth":1.8}}}
  }]}
 ],"spacing":17},
{"resolve":{"scale":{"color":"independent","strokeDash":"independent"},"legend":{"color":"independent","strokeDash":"independent"}},
 "hconcat":[
 {"resolve":{"scale":{"color":"independent","strokeDash":"independent"},"legend":{"color":"independent","strokeDash":"independent"}},
  "title":{"text":"(c)","orient":"bottom","font":"Liberation Serif","fontSize":15,"fontWeight":"bold","color":"#000000","offset":2},
  "vconcat":[{
  "width":229,"height":180,"title":{"text":"Altitude Tracking Performance","offset":-2},"data":{"name":"c"},
  "encoding":{"x":{"field":"t","type":"quantitative","scale":{"domain":[5,85],"nice":false,"zero":false},"axis":{"values":[10,20,30,40,50,60,70,80],"title":"Time(s)"}},
   "y":{"field":"v","type":"quantitative","scale":{"domain":[5320,5550],"nice":false,"zero":false},"axis":{"values":[5350,5400,5450,5500,5550],"format":"d","title":"Altitude(m)","titlePadding":1}},
   "color":{"field":"k","type":"nominal","scale":{"domain":["R","C"],"range":["#1f72c0","#ff1f1f"]},"legend":{"title":null,"labelExpr":"datum.label=='R'?'Altitude response':'Altitude command'"}},
   "strokeDash":{"field":"k","type":"nominal","scale":{"domain":["R","C"],"range":[[1,0],[4,2.5]]},"legend":{"title":null,"labelExpr":"datum.label=='R'?'Altitude response':'Altitude command'"}}},
  "layer":[
   {"transform":[{"filter":"datum.k=='R'"}],"mark":{"type":"line","strokeWidth":1.3,"interpolate":"monotone","clip":true},"encoding":{"detail":{"field":"r"}}},
   {"transform":[{"filter":"datum.k=='C'"}],"mark":{"type":"line","strokeWidth":1.3,"clip":true}}
  ]}]},
 {"resolve":{"scale":{"color":"independent","strokeDash":"independent"},"legend":{"color":"independent","strokeDash":"independent"}},
  "title":{"text":"(d)","orient":"bottom","font":"Liberation Serif","fontSize":15,"fontWeight":"bold","color":"#000000","offset":2},
  "vconcat":[{
  "width":233,"height":182,"title":{"text":"Airspeed Tracking Performance","offset":-2},"data":{"name":"d"},
  "encoding":{"x":{"field":"t","type":"quantitative","scale":{"domain":[5,85],"nice":false,"zero":false},"axis":{"values":[10,20,30,40,50,60,70,80],"title":"Time(s)"}},
   "y":{"field":"v","type":"quantitative","scale":{"domain":[138,170],"nice":false,"zero":false},"axis":{"values":[140,145,150,155,160,165,170],"title":"Airspeed(m/s)","titlePadding":2}},
   "color":{"field":"k","type":"nominal","scale":{"domain":["R","C"],"range":["#1f72c0","#ff1f1f"]},"legend":{"title":null,"labelExpr":"datum.label=='R'?'Airspeed response':'Airspeed command'"}},
   "strokeDash":{"field":"k","type":"nominal","scale":{"domain":["R","C"],"range":[[1,0],[4,2.5]]},"legend":{"title":null,"labelExpr":"datum.label=='R'?'Airspeed response':'Airspeed command'"}}},
  "layer":[
   {"transform":[{"filter":"datum.k=='R'"}],"mark":{"type":"line","strokeWidth":1.2,"interpolate":"monotone","clip":true},"encoding":{"detail":{"field":"r"}}},
   {"transform":[{"filter":"datum.k=='S'"}],"mark":{"type":"line","strokeWidth":2.2,"interpolate":"monotone","clip":true},"encoding":{"color":{"value":"#2e3fd8"},"strokeDash":{"value":[1,0]}}},
   {"transform":[{"filter":"datum.k=='C'"}],"mark":{"type":"line","strokeWidth":1.3,"clip":true}}
  ]}]}
 ],"spacing":16},
{"resolve":{"scale":{"color":"independent","strokeDash":"independent"},"legend":{"color":"independent","strokeDash":"independent"}},
 "hconcat":[
 {"resolve":{"scale":{"color":"independent","strokeDash":"independent"},"legend":{"color":"independent","strokeDash":"independent"}},
  "title":{"text":"(e)","orient":"bottom","font":"Liberation Serif","fontSize":15,"fontWeight":"bold","color":"#000000","offset":2},
  "vconcat":[{
  "width":227,"height":178,"title":{"text":"Lateral Acceleration Tracking Performance","offset":-2},"data":{"name":"e"},
  "encoding":{"x":{"field":"t","type":"quantitative","scale":{"domain":[5,85],"nice":false,"zero":false},"axis":{"values":[10,20,30,40,50,60,70,80],"title":"Time(s)"}},
   "y":{"field":"v","type":"quantitative","scale":{"domain":[-2,2.5],"nice":false,"zero":false},"axis":{"values":[-2,-1.5,-1,-0.5,0,0.5,1,1.5,2,2.5],"format":"~g","title":"Y-axis accel(m/s²)","titlePadding":5}},
   "color":{"field":"k","type":"nominal","scale":{"domain":["R","C"],"range":["#1f72c0","#ff1f1f"]},"legend":{"title":null,"labelExpr":"datum.label=='R'?'Lateral acceleration response':'Lateral acceleration command'"}},
   "strokeDash":{"field":"k","type":"nominal","scale":{"domain":["R","C"],"range":[[1,0],[5,2,1,2]]},"legend":{"title":null,"labelExpr":"datum.label=='R'?'Lateral acceleration response':'Lateral acceleration command'"}}},
  "layer":[
   {"transform":[{"filter":"datum.k=='R'"}],"mark":{"type":"line","strokeWidth":4,"interpolate":"monotone","clip":true},"encoding":{"detail":{"field":"r"}}},
   {"transform":[{"filter":"datum.k=='C'"}],"mark":{"type":"line","strokeWidth":1.3,"clip":true}}
  ]}]},
 {"resolve":{"scale":{"color":"independent","strokeDash":"independent"},"legend":{"color":"independent","strokeDash":"independent"}},
  "title":{"text":"(f)","orient":"bottom","font":"Liberation Serif","fontSize":15,"fontWeight":"bold","color":"#000000","offset":2},
  "vconcat":[{
  "width":228,"height":179,"title":{"text":"Normal Acceleration Tracking Performance","offset":-2},"data":{"name":"f"},
  "encoding":{"x":{"field":"t","type":"quantitative","scale":{"domain":[5,85],"nice":false,"zero":false},"axis":{"values":[10,20,30,40,50,60,70,80],"title":"Time(s)"}},
   "y":{"field":"v","type":"quantitative","scale":{"domain":[-35,0],"nice":false,"zero":false},"axis":{"values":[-35,-30,-25,-20,-15,-10,-5,0],"title":"Z-axis accel(m/s²)","titlePadding":1}},
   "color":{"field":"k","type":"nominal","scale":{"domain":["R","C"],"range":["#1f72c0","#ff1f1f"]},"legend":{"title":null,"labelExpr":"datum.label=='R'?'Normal acceleration response':'Normal acceleration command'"}},
   "strokeDash":{"field":"k","type":"nominal","scale":{"domain":["R","C"],"range":[[1,0],[4,2.5]]},"legend":{"title":null,"labelExpr":"datum.label=='R'?'Normal acceleration response':'Normal acceleration command'"}}},
  "layer":[
   {"transform":[{"filter":"datum.k=='R'"}],"mark":{"type":"line","strokeWidth":3,"interpolate":"monotone","clip":true},"encoding":{"detail":{"field":"r"}}},
   {"transform":[{"filter":"datum.k=='C'"}],"mark":{"type":"line","strokeWidth":1.3,"clip":true}}
  ]}]}
 ],"spacing":19}
],
"spacing":2
}
